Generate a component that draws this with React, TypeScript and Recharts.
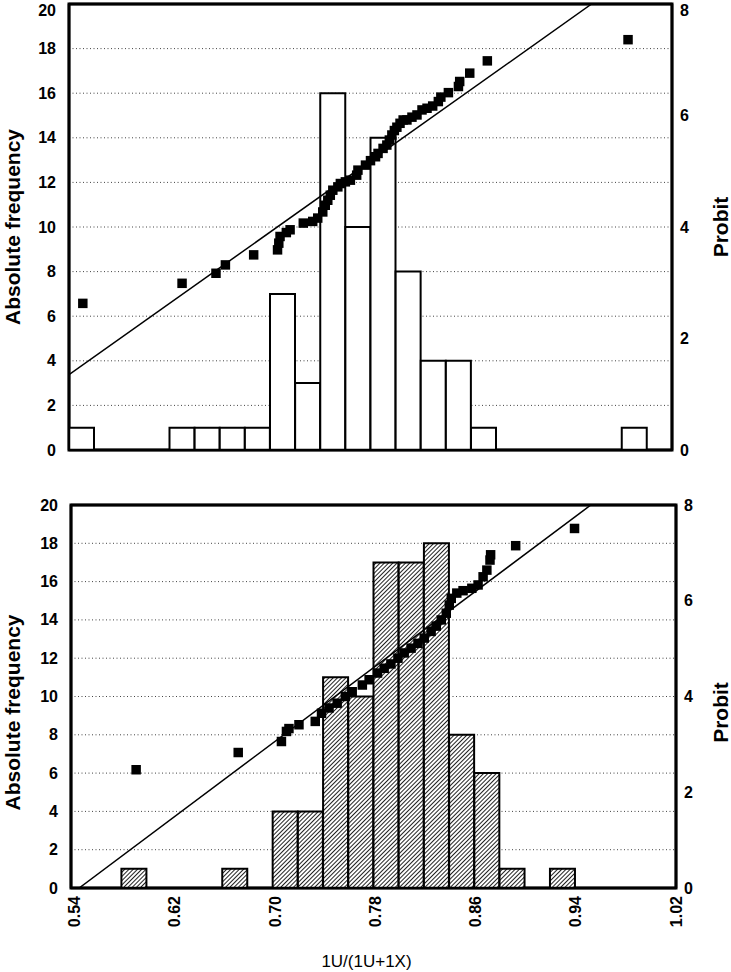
import React from 'react';
import { ComposedChart, Bar, Scatter, Line, XAxis, YAxis, ZAxis, CartesianGrid, ReferenceArea } from 'recharts';

// histogram bins, 0.02 wide, starting at 0.54
const bins = ['0.54', '0.56', '0.58', '0.60', '0.62', '0.64', '0.66', '0.68', '0.70', '0.72', '0.74', '0.76',
    '0.78', '0.80', '0.82', '0.84', '0.86', '0.88', '0.90', '0.92', '0.94', '0.96', '0.98', '1.00'];
const topCounts = [1, 0, 0, 0, 1, 1, 1, 1, 7, 3, 16, 10, 14, 8, 4, 4, 1, 0, 0, 0, 0, 0, 1, 0];
const bottomCounts = [0, 0, 1, 0, 0, 0, 1, 0, 4, 4, 11, 10, 17, 17, 18, 8, 6, 1, 0, 1, 0, 0, 0, 0];

// probit points [x, probit]
const topProbit = [
    [0.551, 2.63], [0.630, 2.99], [0.657, 3.17], [0.6645, 3.32], [0.687, 3.50], [0.706, 3.59], [0.707, 3.71],
    [0.708, 3.83], [0.713, 3.90], [0.716, 3.95], [0.7265, 4.07], [0.734, 4.10], [0.738, 4.16], [0.742, 4.27],
    [0.744, 4.39], [0.746, 4.48], [0.748, 4.57], [0.750, 4.66], [0.754, 4.72], [0.756, 4.78], [0.760, 4.81],
    [0.764, 4.84], [0.769, 4.93], [0.770, 5.02], [0.776, 5.11], [0.780, 5.19], [0.784, 5.26], [0.786, 5.32],
    [0.790, 5.41], [0.793, 5.47], [0.795, 5.56], [0.797, 5.65], [0.799, 5.73], [0.801, 5.79], [0.8035, 5.86],
    [0.806, 5.92], [0.809, 5.92], [0.813, 5.97], [0.817, 6.01], [0.821, 6.10], [0.825, 6.13], [0.8295, 6.17],
    [0.834, 6.25], [0.836, 6.33], [0.842, 6.41], [0.850, 6.52], [0.851, 6.61], [0.859, 6.76], [0.873, 6.98],
    [0.985, 7.36],
];
const bottomProbit = [
    [0.589, 2.47], [0.6705, 2.83], [0.705, 3.06], [0.709, 3.27], [0.711, 3.33], [0.719, 3.41], [0.732, 3.48],
    [0.737, 3.65], [0.743, 3.76], [0.7495, 3.86], [0.756, 4.00], [0.7615, 4.10], [0.7696, 4.24], [0.775, 4.35],
    [0.7817, 4.49], [0.787, 4.59], [0.7924, 4.68], [0.798, 4.80], [0.803, 4.91], [0.8085, 5.01], [0.814, 5.11],
    [0.819, 5.22], [0.8245, 5.36], [0.8286, 5.47], [0.8326, 5.60], [0.8366, 5.74], [0.839, 5.91], [0.8406, 6.05],
    [0.845, 6.16], [0.850, 6.21], [0.857, 6.26], [0.862, 6.33], [0.866, 6.50], [0.869, 6.64], [0.8715, 6.85],
    [0.872, 6.96], [0.892, 7.15], [0.939, 7.51],
];

// fitted probit lines (end points)
const topFit = [[0.54, 1.35], [0.956, 8.0]];
const bottomFit = [[0.5435, 0.0], [0.952, 8.0]];

const freqTicks = [0, 2, 4, 6, 8, 10, 12, 14, 16, 18, 20];
const probitTicks = [0, 2, 4, 6, 8];
const xTicks = [0.54, 0.62, 0.70, 0.78, 0.86, 0.94, 1.02];

const FONT = "'Liberation Sans', Arial, Helvetica, sans-serif";
const tickStyle = { fontFamily: FONT, fontSize: 16, fontWeight: 700, fill: '#000' };
const titleStyle = { fontFamily: FONT, fontSize: 21, fontWeight: 700, fill: '#000' };

const YTick = ({ x, y, payload, textAnchor }: any) => (
    <text x={x} y={Math.max(y, 10)} textAnchor={textAnchor} dominantBaseline="central" style={tickStyle}>
        {payload.value}
    </text>
);

const XTick = ({ x, y, payload }: any) => (
    <text transform={`translate(${x},${y}) rotate(-90)`} textAnchor="end" dominantBaseline="central" style={tickStyle}>
        {payload.value.toFixed(2)}
    </text>
);

// rotated axis title, centred on the axis box (plus a shift)
const SideTitle = ({ viewBox, text, side, shift }: any) => {
    if (!viewBox) return null;
    const cx = side === 'left' ? viewBox.x + 12 : viewBox.x + viewBox.width - 11;
    const cy = viewBox.y + viewBox.height / 2 + shift;
    return (
        <text transform={`translate(${cx},${cy}) rotate(-90)`} textAnchor="middle" dominantBaseline="central" style={titleStyle}>
            {text}
        </text>
    );
};

const toPoints = (arr: number[][]) => arr.map(([x, p]) => ({ x, p }));

interface PanelProps {
    counts: number[];
    probit: number[][];
    fit: number[][];
    hatched: boolean;
    width: number;
    height: number;
    margin: { top: number; right: number; bottom: number; left: number };
    leftWidth: number;
    rightWidth: number;
    xDomain: [number, number];
    showX: boolean;
    titleShift: number;
    id: string;
}

function Panel({ counts, probit, fit, hatched, width, height, margin, leftWidth, rightWidth, xDomain, showX, titleShift, id }: PanelProps) {
    const data = bins.map((bin, i) => ({ bin, count: counts[i] }));
    const edgeTicks = bins.slice(1).map(b => parseFloat(b));
    const axisLine = { stroke: '#000', strokeWidth: 2.5 };

    return (
        <ComposedChart width={width} height={height} data={data} margin={margin} barCategoryGap={0} barGap={0}>
            <defs>
                <pattern id={`hatch-${id}`} width="3" height="3" patternUnits="userSpaceOnUse" patternTransform="rotate(45)">
                    <rect width="3" height="3" fill="#fff" />
                    <line x1="0.5" y1="0" x2="0.5" y2="3" stroke="#222" strokeWidth="1" />
                </pattern>
            </defs>
            <CartesianGrid
                vertical={false}
                horizontal
                xAxisId="num"
                yAxisId="freq"
                stroke="#444"
                strokeDasharray="1 2.5"
            />
            <XAxis xAxisId="cat" dataKey="bin" type="category" hide height={0} />
            <XAxis
                xAxisId="num"
                dataKey="x"
                type="number"
                domain={xDomain}
                allowDataOverflow
                ticks={showX ? xTicks : []}
                tick={showX ? <XTick /> : false}
                tickLine={false}
                stroke="#000"
                strokeWidth={2.5}
                axisLine={axisLine}
                height={showX ? 84 : 30}
                label={showX ? {
                    value: '1U/(1U+1X)',
                    position: 'insideBottom',
                    offset: 5,
                    dx: -7,
                    style: { fontFamily: FONT, fontSize: 17, fill: '#000', textAnchor: 'middle' },
                } : undefined}
            />
            <XAxis
                xAxisId="edges"
                orientation="top"
                type="number"
                domain={xDomain}
                allowDataOverflow
                ticks={edgeTicks}
                tick={false}
                tickSize={4}
                mirror
                height={20}
                stroke="#000"
                tickLine={{ stroke: '#000', strokeWidth: 1.5 }}
                axisLine={axisLine}
            />
            <YAxis
                yAxisId="freq"
                orientation="left"
                domain={[0, 20]}
                ticks={freqTicks}
                interval={0}
                width={leftWidth}
                tickSize={8}
                tickMargin={5}
                tickLine={false}
                stroke="#000"
                strokeWidth={2.5}
                axisLine={axisLine}
                tick={<YTick />}
                label={<SideTitle text="Absolute frequency" side="left" shift={titleShift} />}
            />
            <YAxis
                yAxisId="probit"
                orientation="right"
                dataKey="p"
                type="number"
                domain={[0, 8]}
                allowDataOverflow
                ticks={probitTicks}
                interval={0}
                width={rightWidth}
                tickSize={6}
                tickMargin={2}
                tickLine={false}
                stroke="#000"
                strokeWidth={2.5}
                axisLine={axisLine}
                tick={<YTick />}
                label={<SideTitle text="Probit" side="right" shift={titleShift} />}
            />
            <ZAxis range={[90, 90]} />
            <ReferenceArea
                xAxisId="num"
                yAxisId="freq"
                x1={xDomain[0]}
                x2={xDomain[1]}
                y1={0}
                y2={20}
                fill="none"
                fillOpacity={0}
                stroke="#000"
                strokeWidth={3}
                ifOverflow="visible"
            />
            <Bar
                xAxisId="cat"
                yAxisId="freq"
                dataKey="count"
                fill={hatched ? `url(#hatch-${id})` : '#fff'}
                stroke="#000"
                strokeWidth={2}
                isAnimationActive={false}
            />
            <Line
                xAxisId="num"
                yAxisId="probit"
                data={toPoints(fit)}
                dataKey="p"
                type="linear"
                stroke="#000"
                strokeWidth={1.5}
                dot={false}
                activeDot={false}
                isAnimationActive={false}
            />
            <Scatter
                xAxisId="num"
                yAxisId="probit"
                data={toPoints(probit)}
                dataKey="p"
                shape="square"
                fill="#000"
                isAnimationActive={false}
            />
        </ComposedChart>
    );
}

export default function App() {
    return (
        <div style={{ position: 'absolute', left: 0, top: 0, width: 731, height: 972, background: '#fff' }}>
            <div style={{ position: 'absolute', left: 0, top: 0 }}>
                <Panel
                    id="top"
                    counts={topCounts}
                    probit={topProbit}
                    fit={topFit}
                    hatched={false}
                    width={731}
                    height={480}
                    margin={{ top: 4, right: 0, bottom: 0, left: 0 }}
                    leftWidth={69}
                    rightWidth={59}
                    xDomain={[0.54, 1.02]}
                    showX={false}
                    titleShift={0}
                />
            </div>
            <div style={{ position: 'absolute', left: 0, top: 480 }}>
                <Panel
                    id="bottom"
                    counts={bottomCounts}
                    probit={bottomProbit}
                    fit={bottomFit}
                    hatched
                    width={731}
                    height={492}
                    margin={{ top: 25, right: 0, bottom: 0, left: 0 }}
                    leftWidth={71}
                    rightWidth={55}
                    xDomain={[0.537, 1.02]}
                    showX
                    titleShift={16}
                />
            </div>
        </div>
    );
}
